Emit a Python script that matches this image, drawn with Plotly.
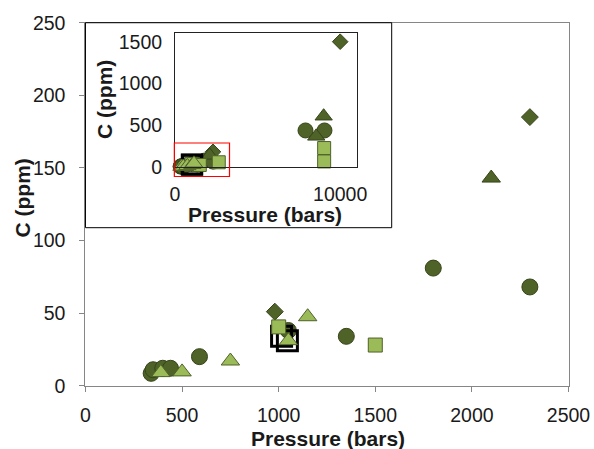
import plotly.graph_objects as go

# ---- data (pressure in bars, C in ppm) ----
dark_circle_x = [340, 350, 400, 440, 590, 1050, 1350, 1800, 2300, 7900, 9050]
dark_circle_y = [8.5, 11, 12, 12, 20, 38, 34, 81, 68, 440, 440]

dark_diamond_x = [980, 2300, 10000]
dark_diamond_y = [51, 185, 1500]

dark_tri_x = [2100, 8550, 9000]
dark_tri_y = [143, 370, 610]

black_sq_x = [1015, 1045]
black_sq_y = [34, 31]

light_sq_x = [1000, 1500, 2650, 9030, 9030]
light_sq_y = [40.5, 28, 60, 230, 70]

light_tri_x = [390, 500, 750, 1050, 1150]
light_tri_y = [9, 9.5, 17, 31, 47.5]

main_x_ticks = [0, 500, 1000, 1500, 2000, 2500]
main_y_ticks = [0, 50, 100, 150, 200, 250]
inset_x_ticks = [0, 10000]
inset_y_ticks = [0, 500, 1000, 1500]

zoom_box_x = [-40, 3300]
zoom_box_y = [-110, 290]

# ---- styling ----
DARK = "#4F6228"
DARK_LINE = "#36451A"
LIGHT = "#9BBB59"
LIGHT_LINE = "#4F6228"
FONT = "Liberation Sans, Arial, sans-serif"
TXT = "#1a1a1a"
W, H = 594, 449

main_xdom = [0.1439, 0.9571]
main_ydom = [0.1410, 0.9494]
inset_xdom = [0.2946, 0.6005]
inset_ydom = [0.6274, 0.9258]
inset_xr = [0, 11000]
inset_yr = [0, 1600]

series = [
    (dark_circle_x, dark_circle_y, "circle", 16, DARK, DARK_LINE, 1),
    (dark_diamond_x, dark_diamond_y, "diamond", 13, DARK, DARK_LINE, 1),
    (dark_tri_x, dark_tri_y, "triangle-up", 16, DARK, DARK_LINE, 1),
    (black_sq_x, black_sq_y, "square-open", 20, "black", "black", 3),
    (light_sq_x, light_sq_y, "square", 14, LIGHT, LIGHT_LINE, 1),
    (light_tri_x, light_tri_y, "triangle-up", 16, LIGHT, LIGHT_LINE, 1),
]

fig = go.Figure()
for xa, ya in [("x", "y"), ("x2", "y2")]:
    for xs, ys, sym, size, fill, line, lw in series:
        fig.add_trace(go.Scatter(
            x=xs, y=ys, mode="markers", xaxis=xa, yaxis=ya,
            cliponaxis=(xa == "x"),
            marker=dict(symbol=sym, size=size if xa == "x" else size - 1,
                        color=fill, line=dict(color=line, width=lw)),
            showlegend=False, hoverinfo="skip"))

tickfont = dict(family=FONT, size=19.5, color=TXT)
fig.update_layout(
    width=W, height=H, margin=dict(l=0, r=0, t=0, b=0),
    paper_bgcolor="white", plot_bgcolor="rgba(0,0,0,0)",
    xaxis=dict(domain=main_xdom, range=[0, 2500], tickvals=main_x_ticks,
               automargin=False, tickformat="d",
               showgrid=False, zeroline=False, showline=True, linecolor="#868686",
               linewidth=1.3, mirror=True, ticks="outside", ticklen=5,
               tickcolor="#868686", tickfont=tickfont, ticklabelstandoff=7),
    yaxis=dict(domain=main_ydom, range=[0, 250], tickvals=main_y_ticks,
               automargin=False, tickformat="d",
               showgrid=False, zeroline=False, showline=True, linecolor="#868686",
               linewidth=1.3, mirror=True, ticks="outside", ticklen=5,
               tickcolor="#868686", tickfont=tickfont, ticklabelstandoff=10),
    xaxis2=dict(domain=inset_xdom, range=inset_xr, tickvals=inset_x_ticks,
                automargin=False, tickformat="d",
                anchor="y2", showgrid=False, zeroline=False, showline=True,
                linecolor="#222", linewidth=1, mirror=True, ticks="outside",
                ticklen=9, tickcolor="rgba(0,0,0,0)", tickfont=tickfont),
    yaxis2=dict(domain=inset_ydom, range=inset_yr, tickvals=inset_y_ticks,
                automargin=False, tickformat="d",
                anchor="x2", showgrid=False, zeroline=False, showline=True,
                linecolor="#222", linewidth=1, mirror=True, ticks="outside",
                ticklen=8, tickcolor="rgba(0,0,0,0)", tickfont=tickfont),
)


def to_paper(v, r, dom):
    return dom[0] + (v - r[0]) / (r[1] - r[0]) * (dom[1] - dom[0])


# inset frame
fig.add_shape(type="rect", xref="paper", yref="paper",
              x0=main_xdom[0], x1=391.7 / W, y0=1 - 227.7 / H, y1=main_ydom[1],
              line=dict(color="black", width=1), layer="above")
# red zoom box in the inset
fig.add_shape(type="rect", xref="paper", yref="paper",
              x0=to_paper(zoom_box_x[0], inset_xr, inset_xdom),
              x1=to_paper(zoom_box_x[1], inset_xr, inset_xdom),
              y0=to_paper(zoom_box_y[0], inset_yr, inset_ydom),
              y1=to_paper(zoom_box_y[1], inset_yr, inset_ydom),
              line=dict(color="red", width=1.2), layer="above")

titlefont = dict(family=FONT, size=21, color=TXT)
for text, x, y, ang in [
    ("<b>Pressure (bars)</b>", 328 / W, 1 - 438 / H, 0),
    ("<b>C (ppm)</b>", 22 / W, 1 - 198.5 / H, -90),
    ("<b>Pressure (bars)</b>", 265 / W, 1 - 214.7 / H, 0),
    ("<b>C (ppm)</b>", 104 / W, 1 - 100 / H, -90),
]:
    fig.add_annotation(text=text, x=x, y=y, xref="paper", yref="paper",
                       xanchor="center", yanchor="middle", showarrow=False,
                       textangle=ang, font=titlefont)

fig.write_html("out.html", config={"displayModeBar": False},
               post_script="document.body.style.margin='0';"
                           "document.body.style.overflow='hidden';")
